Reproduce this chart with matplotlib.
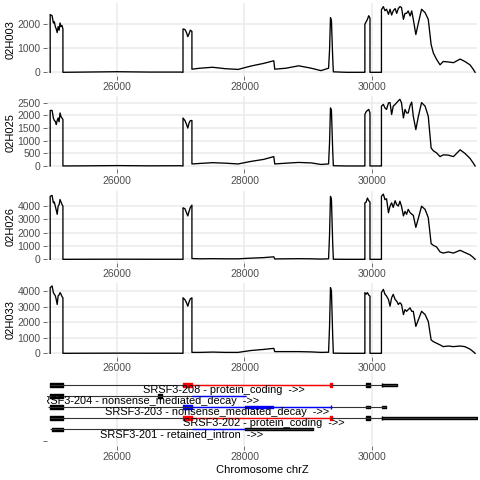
import numpy as np
import matplotlib
matplotlib.use('Agg')
import matplotlib.pyplot as plt

plt.rcParams['font.family'] = ['Liberation Sans', 'DejaVu Sans']

# coverage positions shared by all samples (bp on chrZ)
pos = [24950, 24950, 24980, 25000, 25015, 25030, 25045, 25060, 25075, 25090, 25105, 25120, 25135, 25150, 25150,
       25500, 26000, 26500, 27000, 27035,
       27035, 27065, 27090, 27110, 27130, 27150, 27175, 27175,
       27300, 27500, 27700, 27900, 28100, 28300, 28460, 28475, 28650, 28850, 29050, 29200, 29320,
       29335, 29350, 29365, 29385, 29395,
       29600, 29880,
       29890, 29890, 29910, 29930, 29950, 29970, 29970,
       30140, 30150,
       30150, 30180, 30205, 30230, 30260, 30285, 30310, 30335, 30365, 30390, 30415, 30440, 30465, 30495,
       30520, 30545, 30570, 30600, 30625, 30650, 30690, 30730, 30780, 30835, 30885, 30930, 30965, 31015,
       31070, 31120, 31200, 31280, 31385, 31460, 31540, 31590, 31620]

cov_02H003 = [0, 2400, 2350, 2050, 2100, 1900, 1800, 1650, 1900, 1750, 2050, 1900, 1950, 1800, 0,
              10, 25, 10, 10, 0,
              1800, 1780, 1650, 1480, 1600, 1750, 1700, 130,
              170, 210, 150, 120, 260, 370, 480, 130, 170, 270, 170, 70, 170,
              900, 2270, 2150, 600, 20,
              0, 0,
              0, 2000, 2100, 2200, 2350, 2250, 0,
              0, 0,
              2600, 2730, 2560, 2620, 2410, 2620, 2380, 2550, 2650, 2450, 2650, 2730, 2690, 2200,
              2450, 2450, 2550, 2340, 2550, 2200, 1570, 2050, 2620, 2480, 2200, 1150, 800, 540,
              310, 450, 430, 400, 550, 450, 310, 130, 0]

cov_02H025 = [0, 2200, 2200, 1900, 1800, 1770, 1640, 1800, 1900, 1750, 2100, 1950, 1900, 1840, 0,
              5, 15, 5, 10, 0,
              1900, 1800, 1650, 1500, 1700, 1800, 1800, 80,
              100, 130, 110, 80, 180, 260, 370, 80, 110, 140, 120, 60, 80,
              900, 2300, 2200, 600, 10,
              0, 0,
              0, 2040, 2150, 2200, 2240, 2100, 0,
              0, 0,
              2370, 2440, 2300, 2240, 2500, 2510, 2040, 2370, 2440, 2510, 2580, 2640, 2500, 1900,
              2240, 2100, 2100, 2400, 2530, 1970, 1440, 1970, 2510, 2370, 1970, 710, 600, 520,
              370, 440, 430, 370, 640, 500, 300, 120, 0]

cov_02H026 = [0, 4730, 4800, 4240, 4300, 3990, 3700, 3380, 4000, 4100, 4490, 4300, 4120, 4000, 0,
              5, 10, 5, 5, 0,
              3870, 3800, 3500, 3260, 3600, 3900, 4070, 60,
              40, 50, 40, 40, 90, 130, 190, 30, 40, 50, 40, 20, 40,
              1800, 4730, 4500, 1200, 10,
              0, 0,
              0, 4240, 4300, 4600, 4400, 4300, 0,
              0, 0,
              4730, 4900, 4480, 4550, 3500, 4000, 4240, 3900, 4400, 4100, 4000, 4360, 3990, 3260,
              3600, 3380, 3750, 3500, 3400, 3300, 2400, 3100, 3990, 3750, 3130, 1180, 1050, 930,
              560, 470, 560, 470, 680, 510, 340, 150, 0]

cov_02H033 = [0, 4220, 4330, 3900, 3800, 3700, 3460, 3140, 3700, 3750, 3900, 3800, 3650, 3570, 0,
              5, 10, 5, 5, 0,
              3570, 3450, 3250, 3030, 3300, 3500, 3570, 60,
              60, 80, 60, 60, 180, 250, 320, 110, 110, 110, 90, 60, 70,
              1700, 4220, 4000, 1100, 10,
              0, 0,
              0, 3900, 3800, 3900, 3750, 3670, 0,
              0, 0,
              3900, 4110, 3800, 3680, 3460, 3030, 3570, 3790, 3460, 3350, 3140, 3250, 3140, 2490,
              2810, 2700, 2810, 2920, 2700, 2700, 1730, 2160, 2700, 2490, 2050, 860, 750, 650,
              540, 430, 470, 430, 470, 430, 270, 110, 0]

samples = ['02H003', '02H025', '02H026', '02H033']
coverage = [cov_02H003, cov_02H025, cov_02H026, cov_02H033]
y_steps = [1000, 500, 1000, 1000]

# transcripts (one row each, top to bottom)
tx_names = ['SRSF3-208', 'SRSF3-204', 'SRSF3-203', 'SRSF3-202', 'SRSF3-201']
tx_types = ['protein_coding', 'nonsense_mediated_decay', 'nonsense_mediated_decay',
            'protein_coding', 'retained_intron']
tx_start = [24950, 24910, 24910, 24950, 24950]
tx_end = [30393, 28024, 30220, 31650, 29075]
tx_color = ['red', 'blue', 'blue', 'red', 'blue']

# (row, start, end)
exons = [(0, 24950, 25153), (0, 29907, 29970), (1, 24950, 25153), (1, 26640, 26700),
         (2, 24950, 25153), (3, 24950, 25153), (3, 29907, 29970)]
small_exons = [(2, 29907, 29970), (2, 30158, 30220), (4, 24975, 25153)]
tails = [(0, 30158, 30393), (3, 30158, 31650), (4, 28008, 29075)]
cds_lines = [(0, 27035, 29358), (1, 27177, 28024), (2, 27177, 29358), (3, 27035, 29358), (4, 27177, 28008)]
cds_boxes = [(0, 27035, 27177), (0, 29340, 29375), (2, 27035, 27177), (3, 27035, 27177), (3, 29340, 29375)]
cds_thick = [(2, 28008, 28448)]
starts = [(0, 30158), (3, 30158), (2, 29358)]

xlim = (24900, 31650)
xticks = [26000, 28000, 30000]
grid_col = '#EBEBEB'
tick_col = '#4D4D4D'

fig = plt.figure(figsize=(4.8, 4.8), dpi=100)
L, W = 47 / 480, 430 / 480
rects = [(0.8425, 0.1506), (0.6473, 0.1527), (0.4529, 0.1496), (0.2569, 0.1544)]


def style(ax):
    for s in ax.spines.values():
        s.set_visible(False)
    ax.set_xlim(*xlim)
    ax.set_xticks(xticks)
    ax.set_xticklabels([str(t) for t in xticks])
    ax.tick_params(axis='both', length=3, width=0.5, color='#333333', labelsize=7.5,
                   labelcolor=tick_col, pad=1.5)
    ax.grid(True, color=grid_col, lw=1.1)
    ax.set_axisbelow(True)


for (b, h), name, cov, step in zip(rects, samples, coverage, y_steps):
    ax = fig.add_axes([L, b, W, h])
    style(ax)
    ax.plot(pos, cov, color='black', lw=0.95)
    top = max(cov)
    ax.set_ylim(-0.05 * top, 1.05 * top)
    ax.set_yticks(np.arange(0, top, step))
    ax.set_ylabel(name, fontsize=8)
    ax.yaxis.set_label_coords(-0.074, 0.5)

# gene track
g = fig.add_axes([L, 0.0708, W, 0.1542])
style(g)
g.grid(False, axis='y')
g.set_ylim(5.5, -1.17)
g.set_yticks([5.05])
g.set_yticklabels([''])

for r in range(len(tx_names)):
    g.hlines(r, tx_start[r], tx_end[r], color='#333333', lw=0.8)
for r, s, e in cds_lines:
    g.hlines(r, s, e, color=tx_color[r], lw=1.0)
for r, s, e in exons:
    g.broken_barh([(s, e - s)], (r - 0.18, 0.36), color='black')
for r, s, e in small_exons:
    g.broken_barh([(s, e - s)], (r - 0.11, 0.22), color='black')
for r, s, e in tails:
    g.broken_barh([(s, e - s)], (r - 0.1, 0.2), color='black')
for r, s, e in cds_boxes:
    g.broken_barh([(s, e - s)], (r - 0.18, 0.36), color=tx_color[r])
for r, s, e in cds_thick:
    g.broken_barh([(s, e - s)], (r - 0.08, 0.16), color=tx_color[r])
for r, x in starts:
    g.vlines(x, r - 0.18, r + 0.18, color='black' if r != 2 else tx_color[r], lw=1.0)

for r in range(len(tx_names)):
    g.text((tx_start[r] + tx_end[r]) / 2, r + 0.42, tx_names[r] + ' - ' + tx_types[r] + '  ->>',
           ha='center', va='center', fontsize=7.9, color='black', clip_on=True)

g.set_xlabel('Chromosome chrZ', fontsize=8, labelpad=2)

fig.savefig('out.png', dpi=100)
